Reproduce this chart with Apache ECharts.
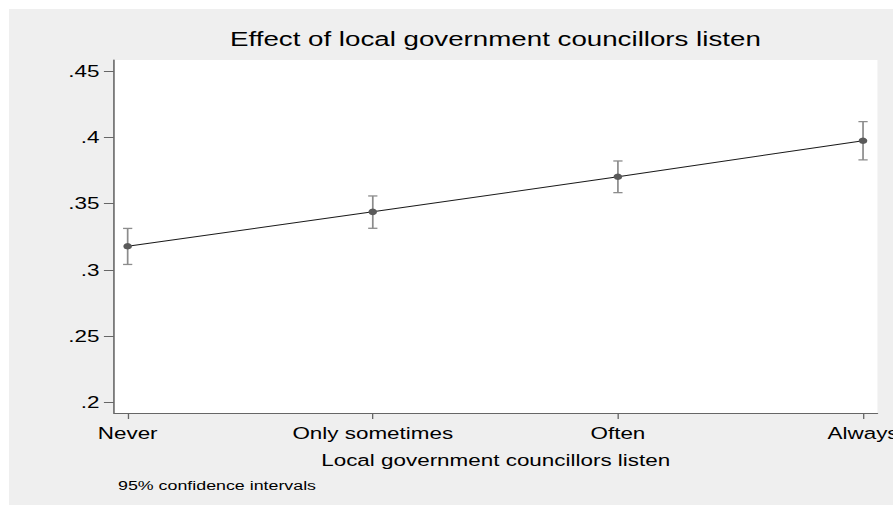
<!DOCTYPE html>
<html>
<head>
<meta charset="utf-8">
<script src="https://cdn.jsdelivr.net/npm/echarts@6/dist/echarts.min.js"></script>
<style>
  html, body { margin: 0; padding: 0; background: #ffffff; overflow: hidden; width: 893px; height: 506px; }
  /* the graph panel is drawn narrow and widened horizontally, as the exported graph is */
  #chart {
    position: absolute; left: 9px; top: 9px;
    width: 669.7px; height: 496px;
    transform: scaleX(1.32); transform-origin: 0 0;
  }
</style>
</head>
<body>
<div id="chart"></div>
<script>
// Predictive margins with 95% confidence intervals
const categories = ['Never', 'Only sometimes', 'Often', 'Always'];
const margins = [0.3177, 0.3437, 0.3702, 0.3974];
const ciLow   = [0.3040, 0.3313, 0.3582, 0.3829];
const ciHigh  = [0.3312, 0.3557, 0.3821, 0.4118];
const yTicks  = [0.2, 0.25, 0.3, 0.35, 0.4, 0.45];

const titleText = 'Effect of local government councillors listen';
const xTitle = 'Local government councillors listen';
const noteText = '95% confidence intervals';

const FONT = '"Liberation Sans", Arial, Helvetica, sans-serif';
const xPos = categories.map((_, i) => i);

const chart = echarts.init(document.getElementById('chart'), null, { renderer: 'svg' });

chart.setOption({
  backgroundColor: '#efefef',
  animation: false,
  textStyle: { fontFamily: FONT },
  grid: {
    left: 79.5, right: 12.1, top: 51, bottom: 92,
    outerBoundsMode: 'none',
    containLabel: false,
    show: true, backgroundColor: '#ffffff', borderWidth: 0
  },
  graphic: [
    {
      type: 'text', x: 368.5, y: 19, silent: true,
      style: { text: titleText, fontSize: 21, fontFamily: FONT, fill: '#000000', align: 'center', verticalAlign: 'top' }
    },
    {
      type: 'text', x: 82.6, y: 469, silent: true,
      style: { text: noteText, fontSize: 13.5, fontFamily: FONT, fill: '#000000', align: 'left', verticalAlign: 'top' }
    }
  ],
  xAxis: {
    type: 'value',
    min: -0.056, max: 3.0587,
    name: xTitle,
    nameLocation: 'middle',
    nameGap: 39,
    nameTextStyle: { fontSize: 17, color: '#000000', fontFamily: FONT },
    splitLine: { show: false },
    axisLine: { show: true, onZero: false, lineStyle: { color: '#666666', width: 1.2 } },
    axisTick: { show: true, length: 6, customValues: xPos, lineStyle: { color: '#666666', width: 1 } },
    axisLabel: {
      customValues: xPos,
      fontSize: 17, color: '#000000', margin: 12, fontFamily: FONT,
      hideOverlap: false,
      formatter: v => categories[Math.round(v)] || ''
    }
  },
  yAxis: {
    type: 'value',
    min: 0.1919, max: 0.4583,
    splitLine: { show: false },
    axisLine: { show: true, onZero: false, lineStyle: { color: '#666666', width: 1.2 } },
    axisTick: { show: true, length: 7.6, customValues: yTicks, lineStyle: { color: '#666666', width: 1 } },
    axisLabel: {
      customValues: yTicks,
      fontSize: 17, color: '#000000', margin: 11, fontFamily: FONT,
      formatter: v => String(+v.toFixed(2)).replace(/^0\./, '.')
    }
  },
  series: [
    {
      type: 'custom',
      name: 'CI',
      data: xPos.map(i => [i, ciLow[i], ciHigh[i]]),
      encode: { x: 0, y: [1, 2] },
      z: 1,
      renderItem: function (params, api) {
        const x = api.value(0);
        const lo = api.coord([x, api.value(1)]);
        const hi = api.coord([x, api.value(2)]);
        const half = 3.5;
        const style = { stroke: '#8c8c8c', lineWidth: 1.3 };
        return {
          type: 'group',
          children: [
            { type: 'line', shape: { x1: lo[0], y1: lo[1], x2: hi[0], y2: hi[1] }, style },
            { type: 'line', shape: { x1: hi[0] - half, y1: hi[1], x2: hi[0] + half, y2: hi[1] }, style },
            { type: 'line', shape: { x1: lo[0] - half, y1: lo[1], x2: lo[0] + half, y2: lo[1] }, style }
          ]
        };
      }
    },
    {
      type: 'line',
      name: 'Margin',
      data: xPos.map(i => [i, margins[i]]),
      z: 2,
      lineStyle: { color: '#1a1a1a', width: 1 },
      symbol: 'circle',
      symbolSize: 6.5,
      itemStyle: { color: '#5a5a5a' },
      showSymbol: true
    }
  ]
});
</script>
</body>
</html>
